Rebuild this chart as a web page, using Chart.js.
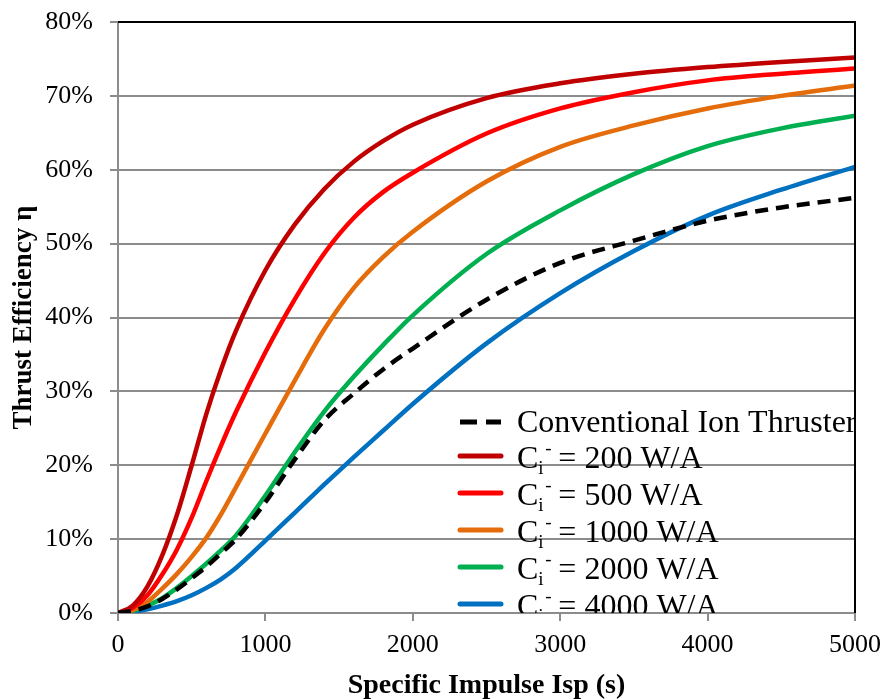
<!DOCTYPE html>
<html>
<head>
<meta charset="utf-8">
<script src="https://cdn.jsdelivr.net/npm/chart.js@4.4.0/dist/chart.umd.min.js"></script>
<style>
  html, body { margin: 0; padding: 0; background: #fff; }
  #wrap { width: 885px; height: 699px; }
</style>
</head>
<body>
<div id="wrap"><canvas id="effChart" width="885" height="699"></canvas></div>
<script>
// specific impulse (s)
var isp = [0, 100, 200, 300, 400, 500, 600, 700, 800, 1000, 1200, 1400, 1600, 1800, 2000, 2500, 3000, 3500, 4000, 4500, 5000];

// thrust efficiency (%)
var conventional = [0, 0.3, 0.9, 1.9, 3.2, 4.7, 6.3, 8.1, 10.0, 15.0, 20.8, 26.1, 29.7, 33.0, 35.8, 42.4, 47.4, 50.4, 53.1, 54.9, 56.2];
var ci200  = [0, 1.0, 3.6, 7.8, 13.3, 20.0, 27.0, 33.0, 38.2, 46.4, 52.6, 57.4, 61.1, 63.9, 66.1, 69.7, 71.7, 73.0, 73.9, 74.6, 75.2];
var ci500  = [0, 0.7, 2.4, 5.2, 8.6, 12.9, 17.9, 22.7, 27.2, 35.3, 42.5, 48.7, 53.5, 57.0, 59.6, 64.9, 68.3, 70.5, 72.1, 73.0, 73.7];
var ci1000 = [0, 0.4, 1.5, 3.3, 5.3, 7.6, 10.2, 13.4, 17.0, 24.3, 31.5, 38.4, 44.0, 48.2, 51.6, 58.4, 63.1, 66.0, 68.3, 70.0, 71.4];
var ci2000 = [0, 0.3, 1.0, 2.0, 3.4, 5.0, 6.7, 8.5, 10.5, 15.9, 21.8, 27.3, 32.0, 36.3, 40.3, 48.6, 54.5, 59.4, 63.2, 65.6, 67.3];
var ci4000 = [0, 0.15, 0.5, 1.0, 1.6, 2.4, 3.4, 4.6, 6.1, 9.8, 13.6, 17.4, 21.1, 24.7, 28.3, 36.5, 43.3, 49.0, 53.8, 57.3, 60.4];

var seriesNames = ['Conventional Ion Thruster', '200 W/A', '500 W/A', '1000 W/A', '2000 W/A', '4000 W/A'];
var yTicks = [0, 10, 20, 30, 40, 50, 60, 70, 80];

var serif = "'Liberation Serif', 'Times New Roman', serif";

function pts(vals) {
  return vals.map(function(v, i) { return { x: isp[i], y: v }; });
}

function makeSet(label, vals, color, dashed) {
  return {
    label: label,
    data: pts(vals),
    borderColor: color,
    backgroundColor: color,
    borderWidth: 4.5,
    borderDash: dashed ? [13, 8] : [],
    pointRadius: 0,
    cubicInterpolationMode: 'monotone',
    fill: false
  };
}

var datasets = [
  makeSet(seriesNames[0], conventional, '#000000', true),
  makeSet(seriesNames[1], ci200, '#C00000', false),
  makeSet(seriesNames[2], ci500, '#FF0000', false),
  makeSet(seriesNames[3], ci1000, '#E46C0A', false),
  makeSet(seriesNames[4], ci2000, '#00B050', false),
  makeSet(seriesNames[5], ci4000, '#0070C0', false)
];

// legend with C_i^- notation inside the plot, axis titles and black top/right frame
var extrasPlugin = {
  id: 'extras',
  afterDatasetsDraw: function(chart) {
    var ctx = chart.ctx;
    var area = chart.chartArea;
    ctx.save();
    ctx.beginPath();
    ctx.rect(area.left, area.top, area.right - area.left, area.bottom - area.top);
    ctx.clip();
    var rowGap = 37;
    var n = chart.data.datasets.length;
    for (var i = 0; i < n; i++) {
      var ds = chart.data.datasets[i];
      var y = area.bottom - 9 - (n - 1 - i) * rowGap;
      if (i === 0) y += 3;
      ctx.strokeStyle = ds.borderColor;
      ctx.lineWidth = 5;
      ctx.lineCap = i === 0 ? 'butt' : 'round';
      ctx.setLineDash(i === 0 ? [17, 9] : []);
      ctx.beginPath();
      ctx.moveTo(area.right - 395, y);
      ctx.lineTo(area.right - 354, y);
      ctx.stroke();
      ctx.setLineDash([]);

      ctx.fillStyle = '#000';
      ctx.textBaseline = 'alphabetic';
      ctx.textAlign = 'left';
      var tx = area.right - 338;
      var base = y + (i === 0 ? 10 : 12);
      ctx.font = '32px ' + serif;
      if (i === 0) {
        ctx.fillText(ds.label, tx, base);
      } else {
        ctx.fillText('C', tx, base);
        var cw = ctx.measureText('C').width;
        ctx.font = '19px ' + serif;
        ctx.fillText('i', tx + cw, base + 6);
        ctx.fillText('-', tx + cw + 7, base - 14);
        ctx.font = '32px ' + serif;
        ctx.fillText('= ' + ds.label, tx + cw + 20, base);
      }
    }
    ctx.restore();

    ctx.save();
    ctx.strokeStyle = '#000';
    ctx.lineWidth = 2;
    ctx.beginPath();
    ctx.moveTo(area.left, area.top);
    ctx.lineTo(area.right, area.top);
    ctx.lineTo(area.right, area.bottom);
    ctx.stroke();

    ctx.fillStyle = '#000';
    ctx.textAlign = 'center';
    ctx.textBaseline = 'middle';
    ctx.font = 'bold 28px ' + serif;
    ctx.fillText('Specific Impulse Isp (s)', (area.left + area.right) / 2, 686);
    ctx.translate(24, (area.top + area.bottom) / 2);
    ctx.rotate(-Math.PI / 2);
    ctx.font = 'bold 27px ' + serif;
    ctx.fillText('Thrust Efficiency η', 0, 0);
    ctx.restore();
  }
};

var ctx = document.getElementById('effChart').getContext('2d');
var effChart = new Chart(ctx, {
  type: 'line',
  data: { datasets: datasets },
  options: {
    responsive: false,
    animation: false,
    layout: { padding: { top: 22, right: 30, left: 0, bottom: 0 } },
    plugins: {
      legend: { display: false },
      tooltip: { enabled: false }
    },
    scales: {
      x: {
        type: 'linear',
        min: 0,
        max: 5000,
        afterFit: function(scale) {
          scale.height = 86;
          scale.paddingLeft = 0;
          scale.paddingRight = 0;
        },
        ticks: {
          stepSize: 1000,
          color: '#000',
          padding: 9,
          maxRotation: 0,
          font: { family: serif, size: 26 },
          callback: function(v) { return String(v); }
        },
        grid: {
          drawOnChartArea: false,
          drawTicks: true,
          tickLength: 8,
          color: '#8c8c8c',
          lineWidth: 2
        },
        border: { color: '#8c8c8c', width: 2 }
      },
      y: {
        min: 0,
        max: 80,
        afterFit: function(scale) {
          scale.width = 118;
          scale.paddingTop = 0;
          scale.paddingBottom = 0;
        },
        afterBuildTicks: function(scale) {
          scale.ticks = yTicks.map(function(v) { return { value: v }; });
        },
        ticks: {
          color: '#000',
          padding: 17,
          font: { family: serif, size: 26 },
          callback: function(v) { return v + '%'; }
        },
        grid: {
          color: '#8c8c8c',
          lineWidth: 2,
          tickLength: 8
        },
        border: { color: '#8c8c8c', width: 2 }
      }
    }
  },
  plugins: [extrasPlugin]
});
</script>
</body>
</html>
